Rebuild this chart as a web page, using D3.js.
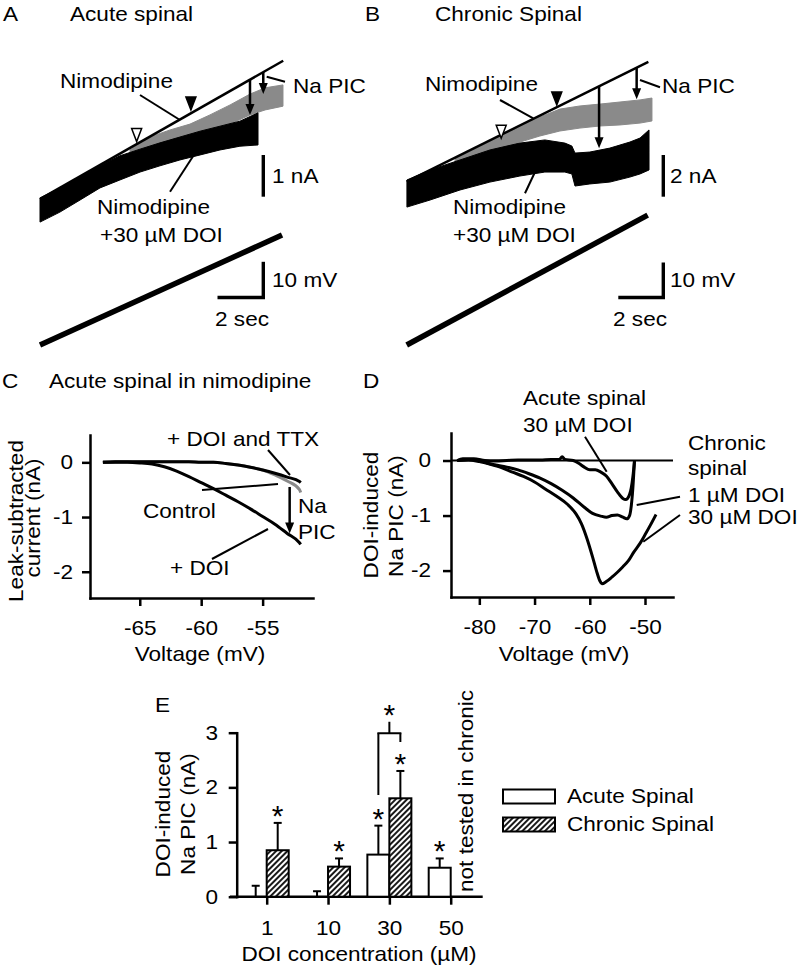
<!DOCTYPE html>
<meta charset="utf-8">
<script src="https://d3js.org/d3.v7.min.js"></script>
<body style="margin:0;background:#fff">
<svg id="fig" width="800" height="971"></svg>
<script>
// ---------- data ----------
// Panels A/B: noisy current traces as bands [time (s), upper edge (nA), lower edge (nA)]
const acuteDoiBand = [[0,0.05,-0.53],[0.87,0.29,-0.29],[1.75,0.55,0],[2.62,0.82,0.29],[3.49,1.06,0.48],
  [4.37,1.22,0.67],[5.24,1.37,0.82],[6.11,1.51,0.96],[6.99,1.65,1.08],[7.86,1.77,1.2],[8.73,1.89,1.29],[9.52,2.09,1.32]];
const acuteNimoBand = [[3.93,1.2,1.03],[4.8,1.51,1.2],[5.68,1.68,1.32],[6.55,1.82,1.46],[7.42,2.04,1.63],
  [8.3,2.28,1.82],[9.17,2.54,2.04],[9.83,2.69,2.16],[10.61,2.76,2.25]];
const acuteLeak = [[0,0.02],[10.62,3.34]];
const acuteRamp = [[0,0],[10.57,30.8]];          // mV
const acuteArrows = [[9.17,2.04],[9.75,2.54]];   // [t, tip current]
const acuteMarks = [[4.22,1.4,"open"],[6.59,2.16,"filled"]];

const chronicDoiBand = [[0.01,0.96,-0.34],[1.04,1.44,0],[2.37,1.92,0.48],[3.7,2.4,0.86],[5.03,2.73,1.15],
  [6.14,2.88,1.34],[7.03,2.73,1.34],[7.34,2.59,1.25],[7.48,2.25,0.67],[8.14,2.3,0.77],[9.03,2.49,0.86],
  [9.92,2.78,1.1],[10.37,2.97,1.25],[10.77,3.36,1.44]];
const chronicNimoBand = [[2.15,2.01,1.44],[3.26,2.59,1.92],[4.15,3.07,2.4],[5.04,3.5,2.78],[5.92,3.98,3.07],
  [6.81,4.36,3.31],[7.7,4.51,3.45],[8.59,4.6,3.55],[9.48,4.7,3.6],[10.37,4.8,3.69],[10.9,4.89,3.79]];
const chronicLeak = [[0,0.88],[10.74,6.63]];
const chronicRamp = [[0,0],[10.71,37.1]];
const chronicArrows = [[8.55,2.48],[10.22,4.83]];
const chronicMarks = [[4.2,2.96,"open"],[6.67,4.56,"filled"]];

// Panel C: leak-subtracted current (nA) vs voltage (mV)
const cVoltage = [-68,-67,-66,-65,-64,-63,-62,-61,-60,-59,-58,-57,-56,-55,-54,-53,-52,-51.9];
const cDoiTtx  = [0,0.01,0.01,0.01,0.01,0.01,0.01,0.01,0,0,-0.02,-0.05,-0.09,-0.14,-0.2,-0.27,-0.35,-0.37];
const cControl = [0,0.01,0.01,0.01,0.01,0.01,0.01,0.01,0,0,-0.02,-0.05,-0.09,-0.14,-0.23,-0.34,-0.5,-0.55];
const cDoi     = [0,0,0,-0.01,-0.03,-0.08,-0.16,-0.26,-0.37,-0.48,-0.6,-0.72,-0.85,-0.99,-1.13,-1.3,-1.47,-1.5];
const cNaPic = [-52.8, -0.45, -1.3];

// Panel D: DOI-induced Na PIC (nA) vs voltage (mV), [V, I]
const dAcute30 = [[-84,0],[-83,0.03],[-81,0.03],[-79,0],[-77,-0.01],[-75,0],[-73,0.01],[-71,0.01],[-69,0.01],
  [-67,0.02],[-65.5,0.02],[-65,0.07],[-64.5,0.02],[-63,0],[-62,-0.05],[-61,-0.12],[-60,-0.17],[-59,-0.17],
  [-58,-0.21],[-57,-0.28],[-56,-0.42],[-55,-0.57],[-54,-0.69],[-53.5,-0.71],[-52.8,-0.62],[-52.2,-0.3],[-51.9,0]];
const dChronic1 = [[-84,0],[-82,0.02],[-80,0.01],[-78.5,-0.05],[-77,-0.08],[-75,-0.12],[-73,-0.17],[-71,-0.24],
  [-69,-0.32],[-67,-0.42],[-65,-0.54],[-63,-0.68],[-61,-0.85],[-59.5,-0.96],[-58,-1.01],[-57,-1.03],[-56,-1.0],
  [-55,-0.99],[-54,-1.03],[-53.3,-1.06],[-52.8,-1.0],[-52.2,-0.5],[-51.9,0]];
const dChronic30 = [[-84,0],[-82,0.01],[-80,-0.02],[-78,-0.07],[-76,-0.13],[-74,-0.21],[-72,-0.29],[-70,-0.39],
  [-68,-0.52],[-66,-0.65],[-64,-0.8],[-62.5,-0.97],[-61.5,-1.15],[-60.5,-1.42],[-59.5,-1.75],[-58.8,-2.0],
  [-58.2,-2.18],[-57.8,-2.24],[-57,-2.2],[-56,-2.12],[-55,-2.03],[-54,-1.93],[-53,-1.82],[-52,-1.66],
  [-51,-1.52],[-50,-1.35],[-49,-1.17],[-48,-0.98]];

// Panel E: bar chart
const eConc = ["1","10","30","50"];
const eAcuteMean = [0, 0, 0.77, 0.53];
const eAcuteSem = [0.2, 0.1, 0.53, 0.17];
const eChronicMean = [0.85, 0.55, 1.8, null];
const eChronicSem = [0.5, 0.15, 0.5, null];
const eAcuteStar = [false, false, true, true];
const eChronicStar = [true, true, true, false];
const eBracket = [1.86, 2.99, 2.83, 3.2]; // left leg bottom, top, right leg bottom, stem top

// ---------- drawing ----------
const FONT = "Liberation Sans, Arial, Helvetica, sans-serif";
const SX = 1.13;
const svg = d3.select("#fig").attr("font-family", FONT);

function txt(x, y, s, o = {}) {
  svg.append("g")
    .attr("transform", `translate(${x},${y}) rotate(${o.rot || 0}) scale(${SX},1)`)
    .append("text")
      .attr("text-anchor", o.anchor || "start")
      .attr("font-size", o.size || 20)
      .attr("fill", "#000")
      .text(s);
}
function seg(x1, y1, x2, y2, w = 2) {
  svg.append("line").attr("x1", x1).attr("y1", y1).attr("x2", x2).attr("y2", y2)
    .attr("stroke", "#000").attr("stroke-width", w);
}
function arrowDown(x, y1, y2) {
  seg(x, y1, x, y2 - 8, 2.5);
  svg.append("path").attr("d", `M${x - 4.5},${y2 - 11}L${x + 4.5},${y2 - 11}L${x},${y2}Z`).attr("fill", "#000");
}
function axisStyle(g) {
  g.attr("font-family", FONT).attr("font-size", 20);
  g.selectAll(".domain").attr("stroke", "#000").attr("stroke-width", 2.5).attr("stroke-linecap", "square");
  g.selectAll(".tick line").attr("stroke", "#000").attr("stroke-width", 2.5);
  g.selectAll(".tick text").attr("fill", "#000").attr("transform", `scale(${SX},1)`);
}

// panels A and B share a layout
function tracePanel(p) {
  const area = d3.area().x(d => p.x(d[0])).y0(d => p.y(d[2])).y1(d => p.y(d[1]));
  svg.append("path").attr("d", area(p.nimo)).attr("fill", "#8a8a8a").attr("stroke", "#8a8a8a").attr("stroke-width", 1);
  svg.append("path").attr("d", area(p.doi)).attr("fill", "#000").attr("stroke", "#000").attr("stroke-width", 1);
  const line = d3.line().x(d => p.x(d[0])).y(d => p.y(d[1]));
  svg.append("path").attr("d", line(p.leak)).attr("fill", "none").attr("stroke", "#000").attr("stroke-width", 2.5);
  const leakAt = t => p.leak[0][1] + (t - p.leak[0][0]) * (p.leak[1][1] - p.leak[0][1]) / (p.leak[1][0] - p.leak[0][0]);
  p.arrows.forEach(a => arrowDown(p.x(a[0]), p.y(leakAt(a[0])), p.y(a[1])));
  p.marks.forEach(m => {
    const x = p.x(m[0]), y = p.y(m[1]);
    svg.append("path").attr("d", `M${x - 5},${y - 13}L${x + 5},${y - 13}L${x},${y}Z`)
      .attr("fill", m[2] === "filled" ? "#000" : "#fff").attr("stroke", "#000").attr("stroke-width", 1.5);
  });
  const vline = d3.line().x(d => p.x(d[0])).y(d => p.yv(d[1]));
  svg.append("path").attr("d", vline(p.ramp)).attr("fill", "none").attr("stroke", "#000").attr("stroke-width", 5.5);
  // scale bars
  const bx = p.barX;
  seg(bx, p.y(0) - 3.3, bx, p.y(p.nA) - 3.3, 3.4);
  const by = p.yv(0) - 47.5;
  seg(bx, by, bx, by - (p.yv(0) - p.yv(10)), 3.4);
  seg(bx + 1.7, by, bx - (p.x(2) - p.x(0)), by, 3.4);
}

const xA = d3.scaleLinear().domain([0, 10.62]).range([40, 283.2]);
const yA = d3.scaleLinear().domain([0, 1]).range([200, 158.3]);
const yAv = d3.scaleLinear().domain([0, 10]).range([345, 309.3]);
tracePanel({x: xA, y: yA, yv: yAv, nimo: acuteNimoBand, doi: acuteDoiBand, leak: acuteLeak,
  arrows: acuteArrows, marks: acuteMarks, ramp: acuteRamp, barX: 263.3, nA: 1});

const xB = d3.scaleLinear().domain([0, 10.74]).range([406.7, 648.35]);
const yB = d3.scaleLinear().domain([0, 2]).range([200, 158.3]);
const yBv = d3.scaleLinear().domain([0, 10]).range([345, 310]);
tracePanel({x: xB, y: yB, yv: yBv, nimo: chronicNimoBand, doi: chronicDoiBand, leak: chronicLeak,
  arrows: chronicArrows, marks: chronicMarks, ramp: chronicRamp, barX: 663.3, nA: 2});

// A labels
txt(3, 21, "A"); txt(70, 21, "Acute spinal");
txt(60, 88, "Nimodipine"); seg(140, 95, 180, 120);
txt(293, 93, "Na PIC"); seg(266.7, 76.7, 285, 81.7);
txt(97, 214, "Nimodipine"); txt(100, 242, "+30 \u00B5M DOI"); seg(170, 191.7, 195, 153.3);
txt(272, 183, "1 nA"); txt(272, 287, "10 mV"); txt(215, 326, "2 sec");
// B labels
txt(365, 21, "B"); txt(435, 21, "Chronic Spinal");
txt(425, 91, "Nimodipine"); seg(500, 100, 533.3, 118.3);
txt(662, 93, "Na PIC"); seg(640, 80, 660, 87.3);
txt(453, 214, "Nimodipine"); txt(453, 242, "+30 \u00B5M DOI"); seg(525, 193.3, 538.3, 165);
txt(670, 183, "2 nA"); txt(670, 287, "10 mV"); txt(613, 326, "2 sec");

// ---------- panel C ----------
const xC = d3.scaleLinear().domain([-69.05, -50.9]).range([90, 313]);
const yC = d3.scaleLinear().domain([-2.48, 0.5]).range([598, 435]);
svg.append("g").attr("transform", "translate(0,598)")
  .call(d3.axisBottom(xC).tickValues([-65, -60, -55]).tickFormat(d => d).tickSize(8).tickPadding(15).tickSizeOuter(0))
  .call(axisStyle);
svg.append("g").attr("transform", "translate(90,0)")
  .call(d3.axisLeft(yC).tickValues([0, -1, -2]).tickFormat(d => d).tickSize(8).tickPadding(7).tickSizeOuter(0))
  .call(axisStyle);
const lineC = vals => d3.line().curve(d3.curveMonotoneX).x((d, i) => xC(cVoltage[i])).y(d => yC(d))(vals);
svg.append("path").attr("d", lineC(cControl)).attr("fill", "none").attr("stroke", "#8a8a8a").attr("stroke-width", 3);
svg.append("path").attr("d", lineC(cDoiTtx)).attr("fill", "none").attr("stroke", "#000").attr("stroke-width", 3);
svg.append("path").attr("d", lineC(cDoi)).attr("fill", "none").attr("stroke", "#000").attr("stroke-width", 3);
arrowDown(xC(cNaPic[0]), yC(cNaPic[1]), yC(cNaPic[2]));
txt(2, 388, "C"); txt(49, 388, "Acute spinal in nimodipine");
txt(167, 446, "+ DOI and TTX"); seg(268, 450, 290, 475);
txt(143, 518, "Control"); seg(202, 490, 278, 484);
txt(298, 513, "Na"); txt(298, 539, "PIC");
txt(170, 575, "+ DOI"); seg(212, 559, 268, 529);
txt(23, 521, "Leak-subtracted", {rot: -90, anchor: "middle"});
txt(40, 518, "current (nA)", {rot: -90, anchor: "middle"});
txt(200, 661, "Voltage (mV)", {anchor: "middle"});

// ---------- panel D ----------
const xD = d3.scaleLinear().domain([-85.13, -44.93]).range([451, 673]);
const yD = d3.scaleLinear().domain([-2.48, 0.5]).range([597, 433]);
svg.append("g").attr("transform", "translate(0,597)")
  .call(d3.axisBottom(xD).tickValues([-80, -70, -60, -50]).tickFormat(d => d).tickSize(8).tickPadding(15).tickSizeOuter(0))
  .call(axisStyle);
svg.append("g").attr("transform", "translate(451,0)")
  .call(d3.axisLeft(yD).tickValues([0, -1, -2]).tickFormat(d => d).tickSize(8).tickPadding(9.7).tickSizeOuter(0))
  .call(axisStyle);
seg(xD.range()[0], yD(0), xD.range()[1], yD(0), 2);
const lineD = d3.line().curve(d3.curveMonotoneX).x(d => xD(d[0])).y(d => yD(d[1]));
[dAcute30, dChronic1, dChronic30].forEach(s =>
  svg.append("path").attr("d", lineD(s)).attr("fill", "none").attr("stroke", "#000").attr("stroke-width", 3));
txt(363, 388, "D");
txt(523, 405, "Acute spinal"); txt(523, 432, "30 \u00B5M DOI"); seg(585, 436.7, 606.7, 471.7);
txt(688, 450, "Chronic"); txt(688, 475, "spinal");
txt(688, 502, "1 \u00B5M DOI"); seg(680, 496.7, 636.7, 505);
txt(688, 524, "30 \u00B5M DOI"); seg(680, 515, 643.3, 541.7);
txt(378, 515, "DOI-induced", {rot: -90, anchor: "middle"});
txt(403, 516, "Na PIC (nA)", {rot: -90, anchor: "middle"});
txt(564, 661, "Voltage (mV)", {anchor: "middle"});

// ---------- panel E ----------
const defs = svg.append("defs");
const pat = defs.append("pattern").attr("id", "hatch").attr("patternUnits", "userSpaceOnUse")
  .attr("width", 4).attr("height", 4).attr("patternTransform", "rotate(45)");
pat.append("rect").attr("width", 4).attr("height", 4).attr("fill", "#fff");
pat.append("line").attr("x1", 1).attr("y1", 0).attr("x2", 1).attr("y2", 4).attr("stroke", "#000").attr("stroke-width", 1.8);

const xE = d3.scalePoint().domain(eConc).range([266.7, 450.7]);
const yE = d3.scaleLinear().domain([0, 3]).range([896.7, 732.7]);
const BW = 22;
svg.append("g").attr("transform", "translate(236.7,0)")
  .call(d3.axisLeft(yE).tickValues([0, 1, 2, 3]).tickFormat(d => d).tickSize(8).tickPadding(8.5).tickSizeOuter(0))
  .call(axisStyle);
const xAxE = svg.append("g").attr("transform", `translate(0,${yE(0)})`)
  .call(d3.axisBottom(xE).tickSize(8).tickPadding(16).tickSizeOuter(0)).call(axisStyle);
xAxE.select(".domain").remove();
seg(230, yE(0), 482.7, yE(0), 2.5);

// asterisk sitting just above value v
function star(x, v) {
  svg.append("text").attr("x", x).attr("y", yE(v) + 3).attr("text-anchor", "middle")
    .attr("font-size", 30).attr("fill", "#000").text("*");
}
function errBar(x, m, s) {
  seg(x, yE(m), x, yE(m + s), 2);
  seg(x - 4, yE(m + s), x + 4, yE(m + s), 2);
}
eConc.forEach((c, i) => {
  const cx = xE(c);
  // acute (white)
  if (eAcuteMean[i] > 0)
    svg.append("rect").attr("x", cx - BW).attr("y", yE(eAcuteMean[i])).attr("width", BW)
      .attr("height", yE(0) - yE(eAcuteMean[i])).attr("fill", "#fff").attr("stroke", "#000").attr("stroke-width", 2);
  errBar(cx - BW / 2, eAcuteMean[i], eAcuteSem[i]);
  if (eAcuteStar[i]) star(cx - BW / 2, eAcuteMean[i] + eAcuteSem[i]);
  // chronic (hatched)
  if (eChronicMean[i] != null) {
    svg.append("rect").attr("x", cx).attr("y", yE(eChronicMean[i])).attr("width", BW)
      .attr("height", yE(0) - yE(eChronicMean[i])).attr("fill", "url(#hatch)").attr("stroke", "#000").attr("stroke-width", 2);
    errBar(cx + BW / 2, eChronicMean[i], eChronicSem[i]);
    if (eChronicStar[i]) star(cx + BW / 2, eChronicMean[i] + eChronicSem[i]);
  }
});
// significance bracket at 30 uM
const c30 = xE("30");
seg(c30 - BW / 2, yE(eBracket[0]), c30 - BW / 2, yE(eBracket[1]), 2);
seg(c30 - BW / 2 - 1, yE(eBracket[1]), c30 + BW / 2 + 1, yE(eBracket[1]), 2);
seg(c30 + BW / 2, yE(eBracket[1]), c30 + BW / 2, yE(eBracket[2]), 2);
seg(c30, yE(eBracket[1]), c30, yE(eBracket[3]), 2);
star(c30, eBracket[3]);

txt(155, 712, "E");
txt(473, 892, "not tested in chronic", {rot: -90});
txt(170, 814, "DOI-induced", {rot: -90, anchor: "middle"});
txt(195, 814, "Na PIC (nA)", {rot: -90, anchor: "middle"});
txt(359, 961, "DOI concentration (\u00B5M)", {anchor: "middle"});

// legend
svg.append("rect").attr("x", 503).attr("y", 789.5).attr("width", 52).attr("height", 14)
  .attr("fill", "#fff").attr("stroke", "#000").attr("stroke-width", 2);
svg.append("rect").attr("x", 503).attr("y", 817.5).attr("width", 52).attr("height", 14)
  .attr("fill", "url(#hatch)").attr("stroke", "#000").attr("stroke-width", 2);
txt(567, 803, "Acute Spinal"); txt(567, 831, "Chronic Spinal");
</script>
</body>
